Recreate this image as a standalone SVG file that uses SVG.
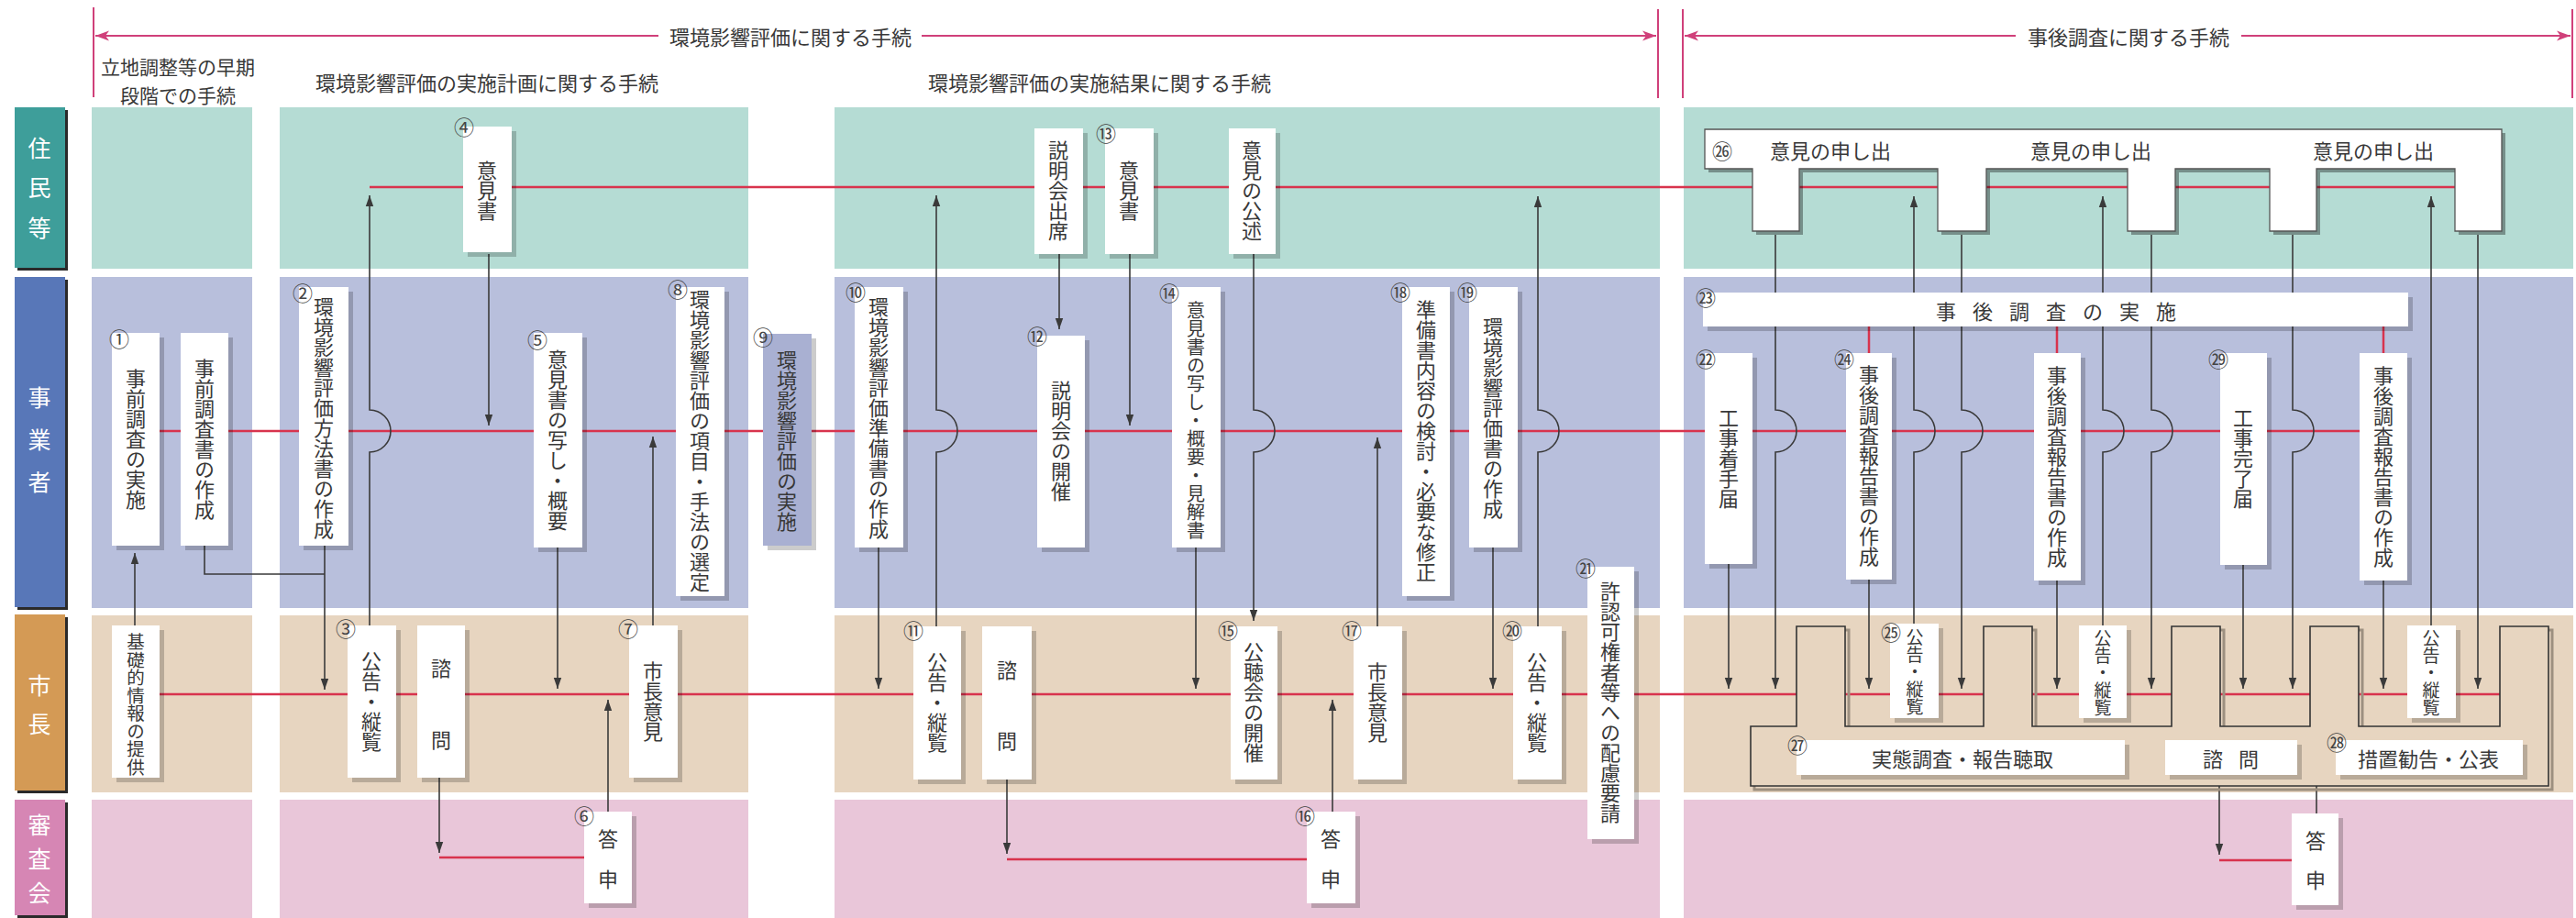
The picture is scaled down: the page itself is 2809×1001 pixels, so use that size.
<svg xmlns="http://www.w3.org/2000/svg" width="2809" height="1001" viewBox="0 0 2809 1001">
<defs>
<style>
.t{font-family:'Noto Sans CJK JP','Noto Sans CJK SC',sans-serif;fill:#383838}
.v{writing-mode:vertical-rl;text-anchor:middle;font-size:22px}
.h{font-size:22px;text-anchor:middle;dominant-baseline:central}
.num{font-family:'Noto Sans CJK JP','Noto Sans CJK SC',sans-serif;fill:#444;font-size:22px;text-anchor:middle;dominant-baseline:central}
.lab{font-family:'Noto Sans CJK JP','Noto Sans CJK SC',sans-serif;fill:#fff;font-size:25px;text-anchor:middle;dominant-baseline:central}
.bx{fill:#fff}
.sh{fill:#000;fill-opacity:.2}
.red{stroke:#d8334d;stroke-width:2.5;fill:none}
.ar{stroke:#3a3a3a;stroke-width:1.6;fill:none;marker-end:url(#ah)}
.ln{stroke:#3a3a3a;stroke-width:1.6;fill:none}
.pk{stroke:#d0407a;stroke-width:2;fill:none}
.pka{stroke:#d0407a;stroke-width:2;fill:none;marker-end:url(#pah)}
</style>
<marker id="ah" markerUnits="userSpaceOnUse" markerWidth="14" markerHeight="10" refX="12" refY="5" orient="auto"><path d="M0,0.8 L12,5 L0,9.2 Z" fill="#3a3a3a"/></marker>
<marker id="pah" markerUnits="userSpaceOnUse" markerWidth="16" markerHeight="12" refX="15" refY="6" orient="auto"><path d="M0,0.5 L15,6 L0,11.5 L4,6 Z" fill="#d0407a"/></marker>
</defs>
<rect width="2809" height="1001" fill="#fff"/>

<g id="lanes">
<rect x="100" y="117" width="175" height="176" fill="#b5dcd4"/>
<rect x="305" y="117" width="511" height="176" fill="#b5dcd4"/>
<rect x="910" y="117" width="900" height="176" fill="#b5dcd4"/>
<rect x="1836" y="117" width="970" height="176" fill="#b5dcd4"/>
<rect x="100" y="302" width="175" height="361" fill="#b8bfdc"/>
<rect x="305" y="302" width="511" height="361" fill="#b8bfdc"/>
<rect x="910" y="302" width="900" height="361" fill="#b8bfdc"/>
<rect x="1836" y="302" width="970" height="361" fill="#b8bfdc"/>
<rect x="100" y="671" width="175" height="193" fill="#e7d5c0"/>
<rect x="305" y="671" width="511" height="193" fill="#e7d5c0"/>
<rect x="910" y="671" width="900" height="193" fill="#e7d5c0"/>
<rect x="1836" y="671" width="970" height="193" fill="#e7d5c0"/>
<rect x="100" y="872" width="175" height="129" fill="#e9c6d9"/>
<rect x="305" y="872" width="511" height="129" fill="#e9c6d9"/>
<rect x="910" y="872" width="900" height="129" fill="#e9c6d9"/>
<rect x="1836" y="872" width="970" height="129" fill="#e9c6d9"/>
</g>

<g id="lane-labels">
<g id="lane-residents">
<rect x="19" y="120" width="55" height="175" fill="#2a2a2a"/>
<rect x="16" y="117" width="55" height="175" fill="#3e9e9a"/>
<text class="lab"><tspan x="43" y="160">住</tspan><tspan x="43" y="203">民</tspan><tspan x="43" y="247">等</tspan></text>
</g>
<g id="lane-business">
<rect x="19" y="305" width="55" height="360" fill="#2a2a2a"/>
<rect x="16" y="302" width="55" height="360" fill="#5877b8"/>
<text class="lab"><tspan x="43" y="432">事</tspan><tspan x="43" y="478">業</tspan><tspan x="43" y="524">者</tspan></text>
</g>
<g id="lane-mayor">
<rect x="19" y="673" width="55" height="192" fill="#2a2a2a"/>
<rect x="16" y="670" width="55" height="192" fill="#d49a55"/>
<text class="lab"><tspan x="43" y="746">市</tspan><tspan x="43" y="788">長</tspan></text>
</g>
<g id="lane-council">
<rect x="19" y="875" width="55" height="126" fill="#2a2a2a"/>
<rect x="16" y="872" width="55" height="126" fill="#d686b4"/>
<text class="lab"><tspan x="43" y="898">審</tspan><tspan x="43" y="935">査</tspan><tspan x="43" y="972">会</tspan></text>
</g>
</g>

<g id="header">
<path class="pk" d="M102,8 V106 M1808,10 V107 M1835,10 V107 M2805,10 V107"/>
<path class="pka" d="M718,39 H104"/>
<path class="pka" d="M1005,39 H1806"/>
<path class="pka" d="M2198,39 H1837"/>
<path class="pka" d="M2444,39 H2803"/>
<text class="t h" x="862" y="39">環境影響評価に関する手続</text>
<text class="t h" x="2321" y="39">事後調査に関する手続</text>
<text class="t h" style="font-size:21px"><tspan x="194" y="72">立地調整等の早期</tspan><tspan x="194" y="103">段階での手続</tspan></text>
<text class="t h" x="531" y="89">環境影響評価の実施計画に関する手続</text>
<text class="t h" x="1199" y="89">環境影響評価の実施結果に関する手続</text>
</g>

<g id="connectors">
<path class="red" d="M403,204 H2700"/>
<path class="red" d="M148,470 H2590"/>
<path class="red" d="M148,757 H2750"/>
<path class="red" d="M479,935 H637"/>
<path class="red" d="M1098,937 H1425"/>
<path class="red" d="M2420,938 H2499"/>
<path class="red" d="M2317,826 H2361 M2505,826 H2547"/>
<path class="red" d="M2038,356 V385 M2243,356 V385 M2599,356 V385"/>

<path class="ar" d="M147,682 V603"/>
<path class="ln" d="M223,595 V626 H354"/>
<path class="ar" d="M354,595 V752"/>
<path class="ar" d="M403,682 V493 A23,23 0 0 0 403,447 V213"/>
<path class="ar" d="M533,277 V464"/>
<path class="ar" d="M479,848 V930"/>
<path class="ar" d="M663,885 V763"/>
<path class="ar" d="M608,597 V751"/>
<path class="ar" d="M712,682 V476"/>
<path class="ar" d="M958,597 V751"/>
<path class="ar" d="M1021,683 V493 A23,23 0 0 0 1021,447 V213"/>
<path class="ar" d="M1098,850 V931"/>
<path class="ar" d="M1155,277 V359"/>
<path class="ar" d="M1232,277 V464"/>
<path class="ar" d="M1304,597 V751"/>
<path class="ar" d="M1367,277 V447 A23,23 0 0 1 1367,493 V677"/>
<path class="ar" d="M1453,885 V763"/>
<path class="ar" d="M1502,683 V477"/>
<path class="ar" d="M1628,597 V751"/>
<path class="ar" d="M1677,683 V493 A23,23 0 0 0 1677,447 V214"/>
<path class="ar" d="M1936,256 V447 A23,23 0 0 1 1936,493 V751"/>
<path class="ar" d="M1885,615 V751"/>
<path class="ar" d="M2038,632 V751"/>
<path class="ar" d="M2087,680 V493 A23,23 0 0 0 2087,447 V214"/>
<path class="ar" d="M2139,256 V447 A23,23 0 0 1 2139,493 V751"/>
<path class="ar" d="M2243,633 V751"/>
<path class="ar" d="M2293,682 V493 A23,23 0 0 0 2293,447 V214"/>
<path class="ar" d="M2346,256 V447 A23,23 0 0 1 2346,493 V751"/>
<path class="ar" d="M2446,616 V751"/>
<path class="ar" d="M2500,256 V447 A23,23 0 0 1 2500,493 V751"/>
<path class="ar" d="M2599,633 V751"/>
<path class="ar" d="M2651,682 V214"/>
<path class="ar" d="M2702,256 V751"/>
<path class="ar" d="M2420,845 V932"/>
<path class="ar" d="M2526,887 V833"/>
</g>

<g id="n1"><rect class="sh" x="127" y="368" width="52" height="232"/><rect class="bx" x="122" y="363" width="52" height="232"/><text class="t v" x="148" y="479">事前調査の実施</text><text class="num" x="130" y="368">①</text></g>
<g id="n1b"><rect class="sh" x="202" y="368" width="52" height="232"/><rect class="bx" x="197" y="363" width="52" height="232"/><text class="t v" x="223" y="479">事前調査書の作成</text></g>
<g id="n1c"><rect class="sh" x="127" y="687" width="52" height="166"/><rect class="bx" x="122" y="682" width="52" height="166"/><text class="t v" x="148" y="768" style="font-size:19.5px">基礎的情報の提供</text></g>
<g id="n2"><rect class="sh" x="331" y="318" width="54" height="282"/><rect class="bx" x="326" y="313" width="54" height="282"/><text class="t v" x="353" y="456">環境影響評価方法書の作成</text><text class="num" x="330" y="318">②</text></g>
<g id="n3"><rect class="sh" x="384" y="687" width="53" height="166"/><rect class="bx" x="379" y="682" width="53" height="166"/><text class="t v" x="405" y="765">公告・縦覧</text><text class="num" x="377" y="684">③</text></g>
<g id="n3b"><rect class="sh" x="460" y="687" width="52" height="166"/><rect class="bx" x="455" y="682" width="52" height="166"/><text class="t h"><tspan x="481" y="727">諮</tspan><tspan x="481" y="805">問</tspan></text></g>
<g id="n4"><rect class="sh" x="510" y="143" width="53" height="137"/><rect class="bx" x="505" y="138" width="53" height="137"/><text class="t v" x="531" y="208">意見書</text><text class="num" x="506" y="137">④</text></g>
<g id="n5"><rect class="sh" x="587" y="368" width="53" height="234"/><rect class="bx" x="582" y="363" width="53" height="234"/><text class="t v" x="608" y="480">意見書の写し・概要</text><text class="num" x="586" y="369">⑤</text></g>
<g id="n6"><rect class="sh" x="642" y="890" width="52" height="100"/><rect class="bx" x="637" y="885" width="52" height="100"/><text class="t h"><tspan x="663" y="913">答</tspan><tspan x="663" y="957">申</tspan></text><text class="num" x="637" y="888">⑥</text></g>
<g id="n7"><rect class="sh" x="691" y="687" width="53" height="166"/><rect class="bx" x="686" y="682" width="53" height="166"/><text class="t v" x="712" y="765">市長意見</text><text class="num" x="685" y="684">⑦</text></g>
<g id="n8"><rect class="sh" x="742" y="318" width="53" height="337"/><rect class="bx" x="737" y="313" width="53" height="337"/><text class="t v" x="763" y="481">環境影響評価の項目・手法の選定</text><text class="num" x="739" y="314">⑧</text></g>
<g id="n9"><rect class="sh" x="837" y="369" width="53" height="231"/><rect x="832" y="364" width="53" height="231" fill="#a9b0d2"/><text class="t v" x="858" y="481">環境影響評価の実施</text><text class="num" x="832" y="366">⑨</text></g>
<g id="n10"><rect class="sh" x="937" y="318" width="53" height="284"/><rect class="bx" x="932" y="313" width="53" height="284"/><text class="t v" x="958" y="456">環境影響評価準備書の作成</text><text class="num" x="933" y="317">⑩</text></g>
<g id="n11"><rect class="sh" x="1001" y="688" width="52" height="167"/><rect class="bx" x="996" y="683" width="52" height="167"/><text class="t v" x="1022" y="766">公告・縦覧</text><text class="num" x="996" y="686">⑪</text></g>
<g id="n11b"><rect class="sh" x="1076" y="688" width="54" height="167"/><rect class="bx" x="1071" y="683" width="54" height="167"/><text class="t h"><tspan x="1098" y="729">諮</tspan><tspan x="1098" y="806">問</tspan></text></g>
<g id="n12a"><rect class="sh" x="1133" y="145" width="53" height="137"/><rect class="bx" x="1128" y="140" width="53" height="137"/><text class="t v" x="1154" y="208">説明会出席</text></g>
<g id="n12"><rect class="sh" x="1136" y="371" width="52" height="231"/><rect class="bx" x="1131" y="366" width="52" height="231"/><text class="t v" x="1157" y="481">説明会の開催</text><text class="num" x="1131" y="365">⑫</text></g>
<g id="n13"><rect class="sh" x="1210" y="145" width="53" height="137"/><rect class="bx" x="1205" y="140" width="53" height="137"/><text class="t v" x="1231" y="208">意見書</text><text class="num" x="1206" y="144">⑬</text></g>
<g id="n14"><rect class="sh" x="1283" y="318" width="53" height="284"/><rect class="bx" x="1278" y="313" width="53" height="284"/><text class="t v" x="1304" y="458" style="font-size:20px">意見書の写し・概要・見解書</text><text class="num" x="1275" y="318">⑭</text></g>
<g id="n15a"><rect class="sh" x="1345" y="145" width="51" height="137"/><rect class="bx" x="1340" y="140" width="51" height="137"/><text class="t v" x="1365" y="208">意見の公述</text></g>
<g id="n15"><rect class="sh" x="1347" y="688" width="51" height="167"/><rect class="bx" x="1342" y="683" width="51" height="167"/><text class="t v" x="1367" y="766">公聴会の開催</text><text class="num" x="1339" y="686">⑮</text></g>
<g id="n16"><rect class="sh" x="1430" y="890" width="53" height="100"/><rect class="bx" x="1425" y="885" width="53" height="100"/><text class="t h"><tspan x="1451" y="913">答</tspan><tspan x="1451" y="957">申</tspan></text><text class="num" x="1423" y="888">⑯</text></g>
<g id="n17"><rect class="sh" x="1481" y="688" width="53" height="167"/><rect class="bx" x="1476" y="683" width="53" height="167"/><text class="t v" x="1502" y="766">市長意見</text><text class="num" x="1474" y="686">⑰</text></g>
<g id="n18"><rect class="sh" x="1534" y="318" width="52" height="337"/><rect class="bx" x="1529" y="313" width="52" height="337"/><text class="t v" x="1555" y="481">準備書内容の検討・必要な修正</text><text class="num" x="1527" y="317">⑱</text></g>
<g id="n19"><rect class="sh" x="1607" y="318" width="53" height="284"/><rect class="bx" x="1602" y="313" width="53" height="284"/><text class="t v" x="1628" y="456">環境影響評価書の作成</text><text class="num" x="1600" y="317">⑲</text></g>
<g id="n20"><rect class="sh" x="1655" y="688" width="53" height="167"/><rect class="bx" x="1650" y="683" width="53" height="167"/><text class="t v" x="1676" y="766">公告・縦覧</text><text class="num" x="1649" y="686">⑳</text></g>
<g id="n21"><rect class="sh" x="1736" y="623" width="51" height="297"/><rect class="bx" x="1731" y="618" width="51" height="297"/><text class="t v" x="1756" y="766">許認可権者等への配慮要請</text><text class="num" x="1729" y="618">㉑</text></g>

<g id="n26">
<path d="M1863,145 H2732 V256 H2681 V188 H2530 V256 H2479 V188 H2376 V256 H2324 V188 H2170 V256 H2117 V188 H1966 V256 H1915 V188 H1863 Z" fill="#000" fill-opacity=".35"/>
<path d="M1859,141 H2728 V252 H2677 V184 H2526 V252 H2475 V184 H2372 V252 H2320 V184 H2166 V252 H2113 V184 H1962 V252 H1911 V184 H1859 Z" fill="#fff" stroke="#555" stroke-width="1.3"/>
<text class="t h" x="1996" y="163">意見の申し出</text>
<text class="t h" x="2280" y="163">意見の申し出</text>
<text class="t h" x="2588" y="163">意見の申し出</text>
<text class="num" x="1878" y="163">㉖</text>
</g>
<g id="n23"><rect class="sh" x="1862" y="324" width="769" height="37"/><rect class="bx" x="1857" y="319" width="769" height="37"/><text class="t" x="2111" y="338" style="font-size:22px;dominant-baseline:central;letter-spacing:18px">事後調査の実施</text><text class="num" x="1860" y="323">㉓</text></g>
<g id="n22"><rect class="sh" x="1864" y="390" width="52" height="230"/><rect class="bx" x="1859" y="385" width="52" height="230"/><text class="t v" x="1885" y="500">工事着手届</text><text class="num" x="1860" y="390">㉒</text></g>
<g id="n24"><rect class="sh" x="2018" y="390" width="50" height="247"/><rect class="bx" x="2013" y="385" width="50" height="247"/><text class="t v" x="2038" y="508">事後調査報告書の作成</text><text class="num" x="2011" y="390">㉔</text></g>
<g id="n24b"><rect class="sh" x="2223" y="390" width="51" height="248"/><rect class="bx" x="2218" y="385" width="51" height="248"/><text class="t v" x="2243" y="509">事後調査報告書の作成</text></g>
<g id="n29"><rect class="sh" x="2426" y="390" width="51" height="231"/><rect class="bx" x="2421" y="385" width="51" height="231"/><text class="t v" x="2446" y="500">工事完了届</text><text class="num" x="2419" y="390">㉙</text></g>
<g id="n24c"><rect class="sh" x="2578" y="390" width="52" height="248"/><rect class="bx" x="2573" y="385" width="52" height="248"/><text class="t v" x="2599" y="509">事後調査報告書の作成</text></g>

<g id="n27frame">
<path d="M1913,796 H1963 V687 H2016 V796 H2167 V687 H2220 V796 H2372 V687 H2425 V796 H2523 V687 H2576 V796 H2730 V687 H2783 V861 H1913 Z" fill="none" stroke="#9d9080" stroke-width="3"/>
<path d="M1909,792 H1959 V683 H2012 V792 H2163 V683 H2216 V792 H2368 V683 H2421 V792 H2519 V683 H2572 V792 H2726 V683 H2779 V857 H1909 Z" fill="#e7d5c0" stroke="#333" stroke-width="1.6"/>
</g>
<g id="n25"><rect class="sh" x="2066" y="685" width="53" height="103"/><rect class="bx" x="2061" y="680" width="53" height="103"/><text class="t v" x="2088" y="733" style="font-size:19px">公告・縦覧</text><text class="num" x="2062" y="688">㉕</text></g>
<g id="n25b"><rect class="sh" x="2272" y="687" width="52" height="101"/><rect class="bx" x="2267" y="682" width="52" height="101"/><text class="t v" x="2293" y="734" style="font-size:19px">公告・縦覧</text></g>
<g id="n25c"><rect class="sh" x="2630" y="687" width="53" height="101"/><rect class="bx" x="2625" y="682" width="53" height="101"/><text class="t v" x="2651" y="734" style="font-size:19px">公告・縦覧</text></g>
<g id="n27"><rect class="sh" x="1964" y="812" width="358" height="38"/><rect class="bx" x="1959" y="807" width="358" height="38"/><text class="t h" x="2140" y="826">実態調査・報告聴取</text><text class="num" x="1960" y="811">㉗</text></g>
<g id="n27b"><rect class="sh" x="2366" y="812" width="144" height="38"/><rect class="bx" x="2361" y="807" width="144" height="38"/><text class="t h"><tspan x="2413" y="826">諮</tspan><tspan x="2452" y="826">問</tspan></text></g>
<g id="n28"><rect class="sh" x="2552" y="812" width="204" height="38"/><rect class="bx" x="2547" y="807" width="204" height="38"/><text class="t h" x="2648" y="826">措置勧告・公表</text><text class="num" x="2548" y="808">㉘</text></g>
<g id="n28b"><rect class="sh" x="2504" y="892" width="51" height="100"/><rect class="bx" x="2499" y="887" width="51" height="100"/><text class="t h"><tspan x="2525" y="915">答</tspan><tspan x="2525" y="958">申</tspan></text></g>
</svg>
